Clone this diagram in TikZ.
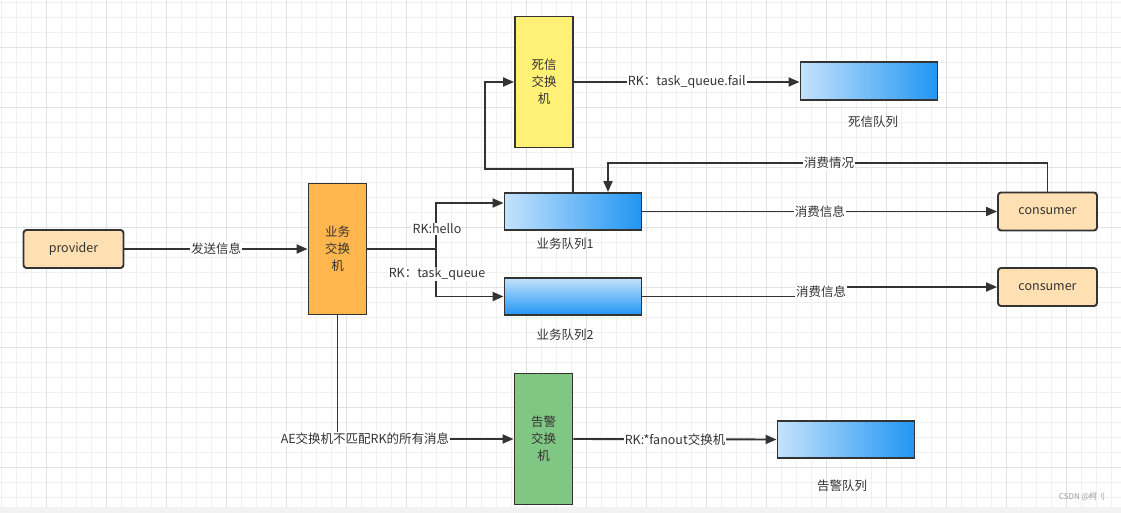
\documentclass[tikz,border=0pt]{standalone}
\usepackage{fontspec}
\setmainfont{Noto Sans CJK SC}
\usepackage{tikz}
\usetikzlibrary{arrows.meta, positioning, calc}
\definecolor{ink}{HTML}{333333}
\definecolor{gridminor}{HTML}{F0F0F0}
\definecolor{gridmajor}{HTML}{E2E2E2}
\definecolor{stripgray}{HTML}{F2F2F2}
\definecolor{provfill}{HTML}{FFE0B2}
\definecolor{bizfill}{HTML}{FFB74D}
\definecolor{deadfill}{HTML}{FFF176}
\definecolor{alarmfill}{HTML}{81C784}
\definecolor{qlight}{HTML}{C4E2FC}
\definecolor{qdark}{HTML}{2196F3}
\tikzset{
    box/.style={draw=ink, line width=1.9pt, text=ink, font=\fontsize{12.5}{17}\selectfont},
    client/.style={box, rounded corners=3pt, fill=provfill, minimum width=100pt, minimum height=38pt},
    exch/.style={box, minimum width=58pt, minimum height=131pt, align=center},
    hqueue/.style={box, minimum width=137pt, minimum height=37pt, left color=qlight, right color=qdark},
    vqueue/.style={box, minimum width=137pt, minimum height=37pt, top color=qlight, bottom color=qdark},
    qname/.style={text=ink, font=\fontsize{12.5}{15}\selectfont},
    lbl/.style={fill=white, text=ink, inner sep=1pt, font=\fontsize{12.5}{15}\selectfont},
    link/.style={draw=ink, line width=1.9pt},
    arr/.style={link, -{Triangle[length=11pt, width=9pt]}},
}

\begin{document}
\begin{tikzpicture}[x=1pt, y=-1pt]
                 \useasboundingbox (0,0) rectangle (1121,513);
                 \fill[white] (0,0) rectangle (1121,507);
                 \foreach \gx in {0,...,74}
                     \draw[gridminor, line width=1pt] ({1.5+15*\gx},0) -- ({1.5+15*\gx},507);
                 \foreach \gy in {0,...,33}
                     \draw[gridminor, line width=1pt] (0,{2.3+15*\gy}) -- (1121,{2.3+15*\gy});
                 \foreach \gx in {0,...,17}
                     \draw[gridmajor, line width=1pt] ({46.5+60*\gx},0) -- ({46.5+60*\gx},507);
                 \foreach \gy in {0,...,7}
                     \draw[gridmajor, line width=1pt] (0,{47.3+60*\gy}) -- (1121,{47.3+60*\gy});
                 \fill[stripgray] (0,507) rectangle (1121,513);

                 \node[client] (prov) at (73.5,249) {provider};
                 \node[exch, fill=bizfill] (bx) at (337.5,249) {业务\\交换\\机};
                 \node[exch, fill=deadfill] (dx) at (544,82) {死信\\交换\\机};
                 \node[exch, fill=alarmfill] (ax) at (543.5,439) {告警\\交换\\机};

                 \node[hqueue] (q1) at (573,211.5) {};
                 \node[vqueue] (q2) at (573,296.5) {};
                 \node[hqueue, minimum height=38pt] (dq) at (869,81) {};
                 \node[hqueue] (aq) at (846,439.5) {};
                 \node[qname] (q1n) at (565,244) {业务队列1};
                 \node[qname] (q2n) at (565,335) {业务队列2};
                 \node[qname] (dqn) at (873,122) {死信队列};
                 \node[qname] (aqn) at (842,486) {告警队列};

                 \node[client, minimum width=99pt] (c1) at (1047.5,211.5) {consumer};
                 \node[client, minimum width=99pt] (c2) at (1047.5,287) {consumer};

                 \draw[arr] (prov.east) -- node[lbl] (send) {发送信息} (bx.west);

                 \coordinate (split) at (436,249);
                 \draw[link] (bx.east) -- (split);
                 \draw[arr] (split) |- ([yshift=8.5pt]q1.west);
                 \draw[arr] (split) |- (q2.west);
                 \node[lbl] (rk1) at (437,229) {RK:hello};
                 \node[lbl] (rk2) at (437,274) {RK：task\_queue};

                 \coordinate (dlx) at (485,169);
                 \draw[arr] (q1.north) |- (dlx) |- (dx.west);
                 \draw[arr] (dx.east) -- node[lbl] (rk3) {RK：task\_queue.fail} (dx.east -| dq.west);

                 \coordinate (fb) at (829,163);
                 \draw[arr] (c1.north) |- (fb) node[lbl] (fbl) {消费情况} -| ([xshift=35pt]q1.north);
                 \draw[arr] (q1.east) -- node[lbl] (cs1) {消费信息} (c1.west);

                 \coordinate (jog) at (821,292);
                 \draw[arr] (q2.east) -| (jog) |- (c2.west);
                 \node[lbl] (cs2) at (jog) {消费信息};

                 \coordinate (ae) at (365,439);
                 \draw[arr] (bx.south) |- (ae) -- (ax.west);
                 \node[lbl] (ael) at (ae) {AE交换机不匹配RK的所有消息};
                 \draw[arr] (ax.east) -- node[lbl] (fan) {RK:*fanout交换机} (aq.west);

                 \node[text=black!40, font=\fontsize{8}{9}\selectfont] (mark) at (1082,497) {CSDN @柯刂};
             \end{tikzpicture}
\end{document}
